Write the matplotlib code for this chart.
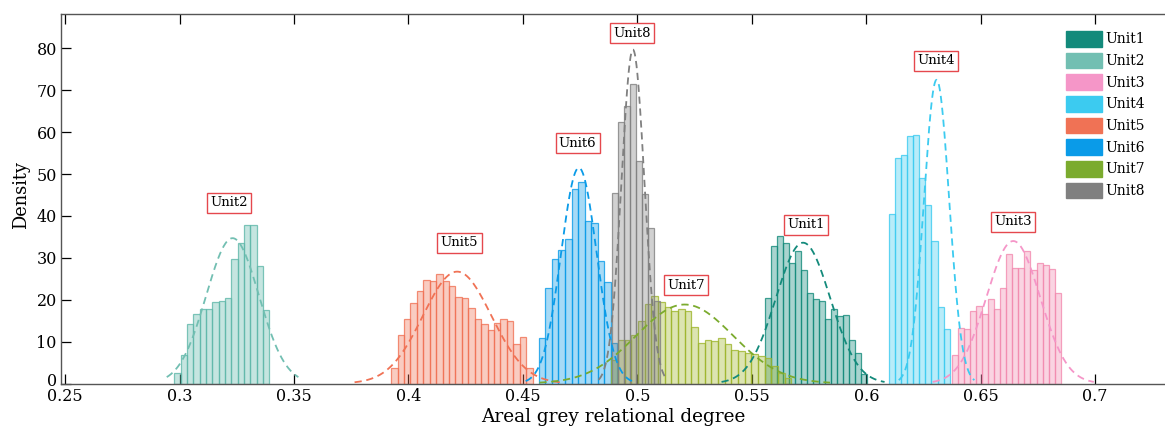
import matplotlib
matplotlib.use("Agg")
import matplotlib.pyplot as plt
import matplotlib.transforms as mtransforms
from matplotlib.patches import Patch
import numpy as np

plt.rcParams["font.family"] = ["DejaVu Serif"]

units = ["Unit1", "Unit2", "Unit3", "Unit4", "Unit5", "Unit6", "Unit7", "Unit8"]
colors = ["#138A7B", "#72BFB2", "#F596C8", "#3CCBF0",
          "#F07255", "#0A9BE8", "#7BAB2E", "#808080"]
hist_colors = ["#138A7B", "#5FB8A9", "#F28AB0", "#3CCBF0",
               "#F07255", "#0A9BE8", "#9EB52C", "#808080"]

# histogram bins: first edge, bin width, bar heights (density)
bin_left = [0.55564, 0.29766, 0.63728, 0.60978, 0.39241, 0.45695, 0.48863, 0.48905]
bin_width = [0.002624, 0.002768, 0.00265, 0.002667, 0.00281, 0.002855, 0.002914, 0.002624]
h1 = [20.4, 32.8, 35.3, 33.6, 28.8, 31.7, 27.0, 21.6, 20.2, 19.6, 15.3, 17.7,
      16.1, 16.3, 10.5, 7.3, 2.3]
h2 = [2.5, 6.7, 14.1, 16.5, 17.7, 17.7, 19.4, 19.8, 20.3, 29.8, 33.6, 37.8,
      37.8, 28.0, 17.5]
h3 = [6.9, 13.3, 12.9, 17.4, 18.5, 16.5, 20.1, 17.7, 22.8, 30.8, 27.6, 27.6,
      31.7, 27.0, 28.8, 28.2, 27.4, 21.5]
h4 = [40.5, 53.8, 54.6, 59.0, 59.3, 49.1, 42.7, 34.1, 18.3, 13.0]
h5 = [3.8, 11.5, 15.4, 19.3, 22.0, 24.7, 24.5, 26.1, 24.5, 23.3, 20.6, 20.4,
      18.0, 15.3, 14.2, 12.8, 14.5, 15.4, 15.0, 9.4, 11.0, 3.8]
h6 = [10.9, 22.8, 29.6, 31.8, 34.4, 46.4, 48.1, 38.9, 38.3, 29.2, 24.3, 9.7]
h7 = [5.5, 10.3, 10.3, 11.5, 15.0, 19.0, 21.0, 19.5, 18.2, 17.3, 17.9, 17.4,
      13.5, 9.7, 10.5, 10.1, 10.9, 9.5, 8.1, 7.7, 7.3, 7.1, 6.5, 6.1, 4.1, 2.5, 1.3]
h8 = [45.5, 62.4, 66.2, 71.4, 53.1, 45.3, 37.0, 19.6]
heights = [h1, h2, h3, h4, h5, h6, h7, h8]

# fitted normal distributions (dashed): mean, std, drawn range in std units
mu = [0.57238, 0.32315, 0.66421, 0.63071, 0.42127, 0.47444, 0.52066, 0.49806]
sigma = [0.01187, 0.0115, 0.01173, 0.005503, 0.01494, 0.00775, 0.02116, 0.005006]
span = [3.0, 2.5, 3.0, 3.0, 3.0, 3.0, 3.0, 3.0]

# boxed unit labels
label_x = [0.5736, 0.3217, 0.6641, 0.6304, 0.4223, 0.4739, 0.5211, 0.4975]
label_y = [37.9, 43.1, 38.6, 77.0, 33.6, 57.4, 23.5, 83.6]

xticks = [0.25, 0.3, 0.35, 0.4, 0.45, 0.5, 0.55, 0.6, 0.65, 0.7]
xticklabels = ["0.25", "0.3", "0.35", "0.4", "0.45", "0.5", "0.55", "0.6", "0.65", "0.7"]
yticks = [0, 10, 20, 30, 40, 50, 60, 70, 80]

fig = plt.figure(figsize=(11.65, 4.32), dpi=100)
ax = fig.add_axes([61 / 1165, 48.5 / 432, 1104 / 1165, 369.5 / 432])

for i in range(len(units)):
    n = len(heights[i])
    edges = bin_left[i] + bin_width[i] * np.arange(n)
    c = matplotlib.colors.to_rgb(hist_colors[i])
    ax.bar(edges, heights[i], width=bin_width[i], align="edge",
           facecolor=(*c, 0.36), edgecolor=(*c, 0.8), linewidth=0.9, zorder=2)

for i in range(len(units)):
    xs = np.linspace(mu[i] - span[i] * sigma[i], mu[i] + span[i] * sigma[i], 300)
    ys = np.exp(-0.5 * ((xs - mu[i]) / sigma[i]) ** 2) / (sigma[i] * np.sqrt(2 * np.pi))
    ax.plot(xs, ys, color=colors[i], lw=1.3, ls=(0, (4, 2.6)), zorder=3)

for i in range(len(units)):
    ax.text(label_x[i], label_y[i], units[i], ha="center", va="center",
            fontsize=9.5, zorder=5,
            bbox=dict(boxstyle="square,pad=0.25", facecolor="white",
                      edgecolor="#E5484D", linewidth=1.0))

ax.set_xlim(0.2482, 0.7305)
ax.set_ylim(0, 88.2)
ax.set_xticks(xticks)
ax.set_xticklabels(xticklabels)
ax.set_yticks(yticks)
ax.tick_params(axis="both", direction="in", length=7, width=0.9,
               labelsize=11.5, color="black")
ax.tick_params(axis="x", top=True, pad=3)
ax.tick_params(axis="y", pad=3)
for side in ["left", "bottom", "top"]:
    ax.spines[side].set_color("#555555")
    ax.spines[side].set_linewidth(1.0)
ax.spines["right"].set_visible(False)

# lift the "0" label a little so it sits above the 0.25 label
zero_lab = ax.get_yticklabels()[0]
zero_lab.set_transform(zero_lab.get_transform()
                       + mtransforms.ScaledTranslation(0, 4 / 100, fig.dpi_scale_trans))

ax.set_xlabel("Areal grey relational degree", fontsize=13.3)
ax.xaxis.set_label_coords(0.5, -0.066)
ax.set_ylabel("Density", fontsize=12.8)
ax.yaxis.set_label_coords(-0.028, 0.51)

handles = [Patch(facecolor=c, edgecolor=c) for c in colors]
fig.legend(handles, units, loc="upper left",
           bbox_to_anchor=(1065.5 / 1165, 1 - 31 / 432),
           frameon=False, fontsize=10, borderpad=0, borderaxespad=0,
           handlelength=2.65, handleheight=1.36, handletextpad=0.2,
           labelspacing=0.43)

fig.savefig("out.png", dpi=100)
